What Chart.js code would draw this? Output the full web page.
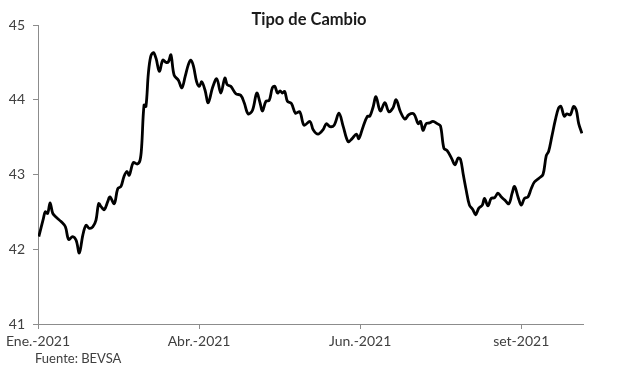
<!DOCTYPE html>
<html>
<head>
<meta charset="utf-8">
<script src="https://cdn.jsdelivr.net/npm/chart.js@4"></script>
<style>
  html, body { margin: 0; padding: 0; background: #fff; }
  #wrap { width: 617px; height: 372px; position: relative; }
</style>
</head>
<body>
<div id="wrap"><canvas id="myChart" width="617" height="372"></canvas></div>
<script>
'use strict';
// data (x = business day since start of 2021)
let dayIndex = [
  0.3, 2.0, 2.7, 3.6, 4.5, 5.5, 6.7, 8.6, 10.2, 11.4, 12.9, 14.2, 15.4, 16.7, 17.9, 19.1,
  20.4, 21.6, 22.6, 23.5, 24.7, 26.0, 26.8, 28.4, 29.7, 30.9, 32.0, 33.1, 34.0, 35.5, 37.0,
  38.0, 38.6, 39.5, 40.2, 41.1, 42.0, 43.0, 44.0, 45.2, 46.5, 47.7, 48.6, 49.5, 50.7, 52.3,
  53.6, 54.8, 56.0, 56.9, 57.9, 59.1, 60.1, 61.0, 62.2, 63.4, 65.0, 66.6, 68.1, 69.6, 70.5,
  71.8, 73.7, 75.5, 76.8, 78.3, 79.9, 81.5, 82.7, 83.6, 84.9, 86.1, 87.3, 88.2, 89.2, 90.2,
  91.0, 91.9, 92.9, 94.4, 95.9, 97.5, 99.1, 101.3, 102.5, 104.3, 106.2, 107.4, 108.7, 110.3,
  112.1, 113.7, 115.5, 117.0, 118.6, 119.5, 121.1, 122.7, 123.6, 124.8, 125.9, 127.5, 129.2,
  130.7, 132.2, 133.4, 135.0, 136.7, 138.1, 140.0, 141.6, 142.5, 143.4, 144.6, 145.8, 147.1,
  148.7, 149.9, 151.2, 152.4, 154.0, 155.3, 156.5, 157.4, 158.4, 159.5, 160.7, 162.0, 163.0,
  164.2, 165.5, 166.3, 167.6, 168.8, 170.1, 171.3, 172.6, 173.8, 175.4, 176.6, 177.5, 178.8,
  180.0, 181.2, 182.5, 183.7, 184.9, 186.6, 188.1, 189.3, 190.2, 191.4, 192.7, 193.9, 194.8,
  196.0, 197.0, 198.3, 199.5, 200.5, 201.4, 202.6
];
let rate = [
  42.17, 42.41, 42.50, 42.48, 42.62, 42.48, 42.43, 42.37, 42.30, 42.13, 42.17, 42.12, 41.95, 42.19, 42.32, 42.28,
  42.30, 42.39, 42.61, 42.57, 42.53, 42.64, 42.70, 42.61, 42.81, 42.84, 42.97, 43.04, 42.99, 43.16, 43.14,
  43.19, 43.37, 43.93, 43.91, 44.35, 44.58, 44.63, 44.55, 44.38, 44.53, 44.50, 44.51, 44.60, 44.33, 44.26,
  44.16, 44.31, 44.47, 44.53, 44.45, 44.24, 44.18, 44.24, 44.13, 43.96, 44.16, 44.28, 44.09, 44.29, 44.20,
  44.18, 44.08, 44.06, 43.96, 43.81, 43.86, 44.09, 43.96, 43.85, 43.98, 43.99, 44.16, 44.18, 44.09, 44.12,
  44.09, 44.11, 43.98, 43.95, 43.82, 43.84, 43.66, 43.71, 43.60, 43.54, 43.60, 43.68, 43.64, 43.66,
  43.82, 43.64, 43.44, 43.48, 43.54, 43.48, 43.64, 43.78, 43.78, 43.90, 44.04, 43.85, 43.96,
  43.84, 43.89, 44.00, 43.84, 43.74, 43.80, 43.81, 43.68, 43.71, 43.59, 43.68, 43.69, 43.71,
  43.68, 43.65, 43.35, 43.32, 43.22, 43.13, 43.22, 43.20, 43.00, 42.79, 42.59, 42.53, 42.46,
  42.55, 42.59, 42.68, 42.58, 42.68, 42.69, 42.75, 42.70, 42.66, 42.61, 42.75, 42.84, 42.70,
  42.59, 42.68, 42.70, 42.81, 42.90, 42.95, 43.00, 43.25, 43.31, 43.51, 43.73, 43.89, 43.91,
  43.78, 43.81, 43.80, 43.91, 43.86, 43.68, 43.55
];
let tickDays = [0, 60, 120, 180];
let tickLabels = ['Ene.-2021', 'Abr.-2021', 'Jun.-2021', 'set-2021'];
let lastDay = 203;
let yTicks = [41, 42, 43, 44, 45];

let titleText = 'Tipo de Cambio';
let sourceText = 'Fuente: BEVSA';
let fontName = 'Lato, "Open Sans", sans-serif';
let axisColor = '#8c8c8c';
let textColor = '#404040';

let points = [];
for (let i = 0; i < dayIndex.length; i++) {
  points.push({ x: dayIndex[i], y: rate[i] });
}

// title and source drawn by hand so they don't take layout space
let extraText = {
  id: 'extraText',
  afterDraw(chart) {
    let ctx = chart.ctx;
    ctx.save();
    ctx.fillStyle = '#1a1a1a';
    ctx.font = 'bold 16.5px ' + fontName;
    ctx.textAlign = 'center';
    ctx.textBaseline = 'middle';
    ctx.fillText(titleText, 309, 20);
    ctx.fillStyle = textColor;
    ctx.font = '13px ' + fontName;
    ctx.textAlign = 'left';
    ctx.fillText(sourceText, 35, 359);
    ctx.restore();
  }
};

let ctx = document.getElementById('myChart').getContext('2d');
let myChart = new Chart(ctx, {
  type: 'line',
  data: {
    datasets: [{
      data: points,
      borderColor: '#000000',
      borderWidth: 2.8,
      pointRadius: 0,
      tension: 0.35,
      fill: false
    }]
  },
  options: {
    responsive: false,
    animation: false,
    layout: { padding: { top: 25, right: 34, left: 0, bottom: 0 } },
    plugins: {
      legend: { display: false },
      title: { display: false },
      tooltip: { enabled: false }
    },
    scales: {
      x: {
        type: 'linear',
        min: 0,
        max: lastDay,
        afterBuildTicks: function (scale) {
          scale.ticks = tickDays.map(function (d) { return { value: d }; });
        },
        afterFit: function (scale) { scale.height = 48; },
        border: { display: true, color: axisColor, width: 1 },
        grid: { drawOnChartArea: false, drawTicks: true, tickLength: 5, color: axisColor },
        ticks: {
          autoSkip: false,
          maxRotation: 0,
          padding: 4,
          color: textColor,
          font: { family: fontName, size: 14 },
          callback: function (value) {
            let k = tickDays.indexOf(value);
            return k >= 0 ? tickLabels[k] : null;
          }
        }
      },
      y: {
        min: yTicks[0],
        max: yTicks[yTicks.length - 1],
        afterBuildTicks: function (scale) {
          scale.ticks = yTicks.map(function (v) { return { value: v }; });
        },
        afterFit: function (scale) { scale.width = 38; },
        border: { display: true, color: axisColor, width: 1 },
        grid: { drawOnChartArea: false, drawTicks: true, tickLength: 5, color: axisColor },
        ticks: {
          padding: 8,
          color: textColor,
          font: { family: fontName, size: 14 }
        }
      }
    }
  },
  plugins: [extraText]
});
</script>
</body>
</html>
